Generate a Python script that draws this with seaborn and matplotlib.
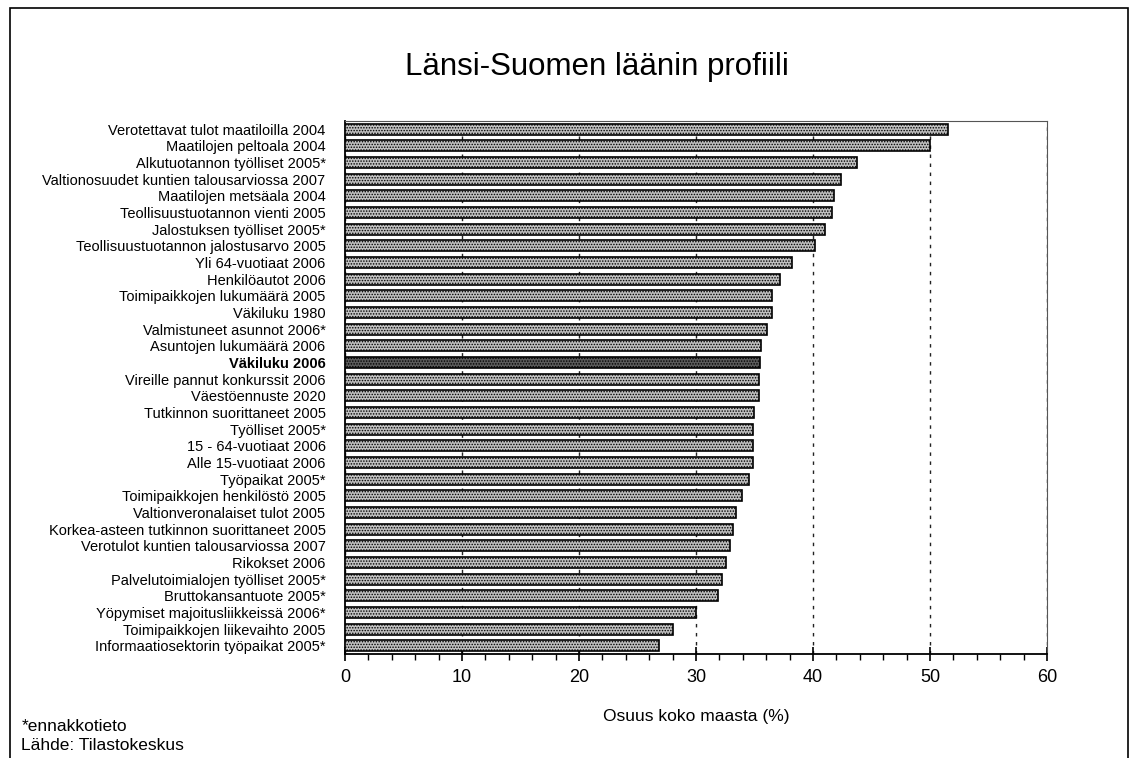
import pandas as pd
import numpy as np
import seaborn as sns
import matplotlib.pyplot as plt
from matplotlib.ticker import MultipleLocator
from matplotlib.patches import Rectangle

#data
labels = [
    "Verotettavat tulot maatiloilla 2004",
    "Maatilojen peltoala 2004",
    "Alkutuotannon työlliset 2005*",
    "Valtionosuudet kuntien talousarviossa 2007",
    "Maatilojen metsäala 2004",
    "Teollisuustuotannon vienti 2005",
    "Jalostuksen työlliset 2005*",
    "Teollisuustuotannon jalostusarvo 2005",
    "Yli 64-vuotiaat 2006",
    "Henkilöautot 2006",
    "Toimipaikkojen lukumäärä 2005",
    "Väkiluku 1980",
    "Valmistuneet asunnot 2006*",
    "Asuntojen lukumäärä 2006",
    "Väkiluku 2006",
    "Vireille pannut konkurssit 2006",
    "Väestöennuste 2020",
    "Tutkinnon suorittaneet 2005",
    "Työlliset 2005*",
    "15 - 64-vuotiaat 2006",
    "Alle 15-vuotiaat 2006",
    "Työpaikat 2005*",
    "Toimipaikkojen henkilöstö 2005",
    "Valtionveronalaiset tulot 2005",
    "Korkea-asteen tutkinnon suorittaneet 2005",
    "Verotulot kuntien talousarviossa 2007",
    "Rikokset 2006",
    "Palvelutoimialojen työlliset 2005*",
    "Bruttokansantuote 2005*",
    "Yöpymiset majoitusliikkeissä 2006*",
    "Toimipaikkojen liikevaihto 2005",
    "Informaatiosektorin työpaikat 2005*",
]
values = [51.5, 50.0, 43.8, 42.4, 41.8, 41.6, 41.0, 40.2, 38.2, 37.2,
          36.5, 36.5, 36.1, 35.6, 35.5, 35.4, 35.4, 35.0, 34.9, 34.9,
          34.9, 34.5, 33.9, 33.4, 33.2, 32.9, 32.6, 32.2, 31.9, 30.0,
          28.0, 26.8]
highlight = "Väkiluku 2006"

df = pd.DataFrame({'label': labels, 'value': values})

sns.set_style("white")
plt.rcParams['font.family'] = ['Liberation Sans', 'DejaVu Sans']
plt.rcParams['text.color'] = 'black'
plt.rcParams['xtick.color'] = 'black'
plt.rcParams['ytick.color'] = 'black'
plt.rcParams['axes.labelcolor'] = 'black'
plt.rcParams['hatch.color'] = '#7a7a7a'
plt.rcParams['hatch.linewidth'] = 0.7

fig = plt.figure(figsize=(11.31, 7.58), dpi=100)
ax = fig.add_axes([0.305, 0.1372, 0.6207, 0.7032])

palette = {l: ('#5a5a5a' if l == highlight else '#c0c0c0') for l in labels}
sns.barplot(data=df, x='value', y='label', hue='label', palette=palette,
            legend=False, orient='h', width=0.66, edgecolor='black',
            linewidth=1.2, saturation=1, ax=ax, zorder=3)
for p in ax.patches:
    p.set_hatch('......')

ax.set_xlim(0, 60)
ax.set_ylim(len(labels) - 0.5, -0.5)
ax.xaxis.set_major_locator(MultipleLocator(10))
ax.xaxis.set_minor_locator(MultipleLocator(2))
ax.grid(axis='x', which='major', color='#222222', linestyle=(0, (2.5, 4)), linewidth=1.0, zorder=0)
ax.grid(axis='y', visible=False)
ax.tick_params(axis='x', which='major', direction='inout', length=10, width=1.2,
               labelsize=13, pad=6, bottom=True)
ax.tick_params(axis='x', which='minor', direction='out', length=4, width=1, bottom=True)
ax.tick_params(axis='y', length=0, labelsize=10.5, pad=14)
for sp in ['top', 'right']:
    ax.spines[sp].set_color('#555555')
    ax.spines[sp].set_linewidth(0.8)
for sp in ['left', 'bottom']:
    ax.spines[sp].set_color('black')
    ax.spines[sp].set_linewidth(1.3)
for t in ax.get_yticklabels():
    if t.get_text() == highlight:
        t.set_fontweight('bold')

ax.set_ylabel('')
ax.set_xlabel('Osuus koko maasta (%)', fontsize=12.5, labelpad=16)

fig.text(0.528, 0.912, 'Länsi-Suomen läänin profiili', fontsize=22.5, ha='center', va='center')
fig.text(0.019, 0.042, '*ennakkotieto', fontsize=12.5, ha='left', va='center')
fig.text(0.019, 0.016, 'Lähde: Tilastokeskus', fontsize=12.5, ha='left', va='center')

#outer frame
fig.patches.append(Rectangle((0.009, -0.01), 0.988, 1.0, transform=fig.transFigure,
                             fill=False, edgecolor='black', linewidth=1.2))

plt.savefig('out.png', dpi=100)
